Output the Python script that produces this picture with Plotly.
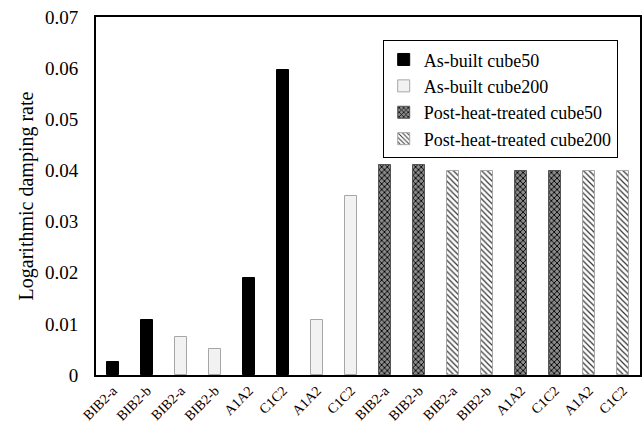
import plotly.graph_objects as go

tick_labels = ["BIB2-a", "BIB2-b", "BIB2-a", "BIB2-b", "A1A2", "C1C2", "A1A2", "C1C2",
               "BIB2-a", "BIB2-b", "BIB2-a", "BIB2-b", "A1A2", "C1C2", "A1A2", "C1C2"]
tick_pos = list(range(16))

ab50_pos = [0, 1, 4, 5]
ab50_val = [0.0025, 0.0107, 0.0189, 0.0597]
ab200_pos = [2, 3, 6, 7]
ab200_val = [0.0074, 0.0051, 0.0108, 0.0350]
ph50_pos = [8, 9, 12, 13]
ph50_val = [0.0411, 0.0410, 0.0398, 0.0398]
ph200_pos = [10, 11, 14, 15]
ph200_val = [0.0398, 0.0398, 0.0398, 0.0398]

font = "Liberation Serif"
fig = go.Figure()
fig.add_trace(go.Bar(x=ab50_pos, y=ab50_val, name="As-built cube50",
                     marker=dict(color="black", line=dict(color="black", width=1)), width=0.33))
fig.add_trace(go.Bar(x=ab200_pos, y=ab200_val, name="As-built cube200",
                     marker=dict(color="#f2f2f2", line=dict(color="#a6a6a6", width=1)), width=0.33))
fig.add_trace(go.Bar(x=ph50_pos, y=ph50_val, name="Post-heat-treated cube50",
                     marker=dict(color="#555555", line=dict(color="#555555", width=1),
                                 pattern=dict(shape="x", fgcolor="black", bgcolor="#8a8a8a",
                                              size=4, solidity=0.4, fillmode="replace")), width=0.33))
fig.add_trace(go.Bar(x=ph200_pos, y=ph200_val, name="Post-heat-treated cube200",
                     marker=dict(color="white", line=dict(color="#a6a6a6", width=1),
                                 pattern=dict(shape="\\", fgcolor="#333333", bgcolor="white",
                                              size=4, solidity=0.3, fillmode="replace")), width=0.33))

fig.update_layout(
    width=643, height=448,
    margin=dict(l=96, r=3, t=17, b=73, autoexpand=False),
    paper_bgcolor="white", plot_bgcolor="white",
    font=dict(family=font, color="black", size=17),
    bargap=0, barmode="overlay",
    legend=dict(x=0.527, y=0.935, xanchor="left", yanchor="top",
                bordercolor="black", borderwidth=1, bgcolor="white",
                font=dict(family=font, size=18), itemwidth=30),
    xaxis=dict(tickmode="array", tickvals=tick_pos, ticktext=tick_labels,
               tickangle=-45, tickfont=dict(size=14), range=[-0.5, 15.5], automargin=False,
               showline=True, linecolor="black", linewidth=2, mirror=True, ticks="", showgrid=False),
    yaxis=dict(range=[0, 0.07], dtick=0.01, tickformat="~g", automargin=False,
               ticklabelstandoff=12,
               title=dict(text="Logarithmic damping rate", font=dict(size=20), standoff=6),
               showline=True, linecolor="black", linewidth=2, mirror=True, ticks="",
               showgrid=False, zeroline=False, tickfont=dict(size=19)),
)
fig.write_html("out.html", config={"displayModeBar": False},
               post_script="document.body.style.margin='0';")
